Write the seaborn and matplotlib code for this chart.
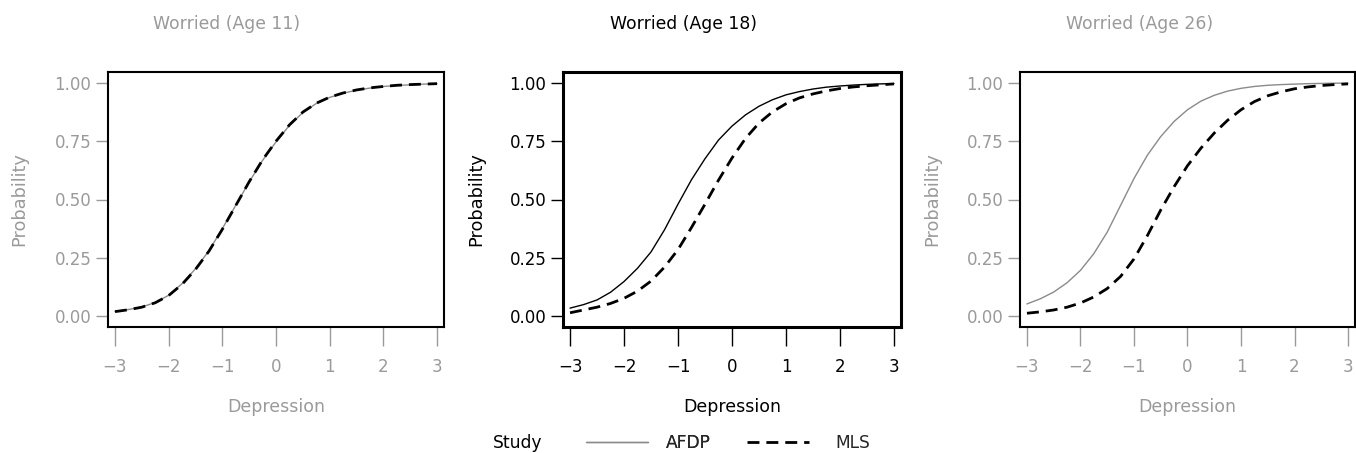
import numpy as np
import pandas as pd
import matplotlib
matplotlib.use("Agg")
import matplotlib.pyplot as plt
import seaborn as sns
from matplotlib.lines import Line2D

# ---------------- data ----------------
depression = [-3.0, -2.75, -2.5, -2.25, -2.0, -1.75, -1.5, -1.25, -1.0, -0.75,
              -0.5, -0.25, 0.0, 0.25, 0.5, 0.75, 1.0, 1.25, 1.5, 1.75,
              2.0, 2.25, 2.5, 2.75, 3.0]

titles = ["Worried (Age 11)", "Worried (Age 18)", "Worried (Age 26)"]
studies = ["AFDP", "MLS"]

afdp_age11 = [0.020, 0.028, 0.039, 0.058, 0.089, 0.139, 0.203, 0.280, 0.375, 0.475,
              0.575, 0.668, 0.747, 0.818, 0.873, 0.912, 0.938, 0.956, 0.969, 0.978,
              0.985, 0.989, 0.992, 0.995, 0.997]
mls_age11 = [0.019, 0.027, 0.038, 0.057, 0.088, 0.136, 0.200, 0.278, 0.372, 0.474,
             0.576, 0.670, 0.750, 0.820, 0.875, 0.913, 0.939, 0.957, 0.970, 0.979,
             0.985, 0.990, 0.993, 0.995, 0.997]

afdp_age18 = [0.034, 0.049, 0.069, 0.102, 0.148, 0.205, 0.275, 0.370, 0.480, 0.585,
              0.675, 0.755, 0.815, 0.863, 0.900, 0.928, 0.949, 0.963, 0.974, 0.982,
              0.987, 0.991, 0.994, 0.996, 0.997]
mls_age18 = [0.014, 0.026, 0.038, 0.054, 0.076, 0.107, 0.150, 0.210, 0.285, 0.380,
             0.480, 0.583, 0.678, 0.762, 0.828, 0.876, 0.911, 0.936, 0.953, 0.966,
             0.976, 0.983, 0.988, 0.992, 0.996]

afdp_age26 = [0.052, 0.074, 0.103, 0.143, 0.196, 0.268, 0.360, 0.475, 0.590, 0.690,
              0.770, 0.835, 0.885, 0.922, 0.947, 0.965, 0.977, 0.985, 0.990, 0.993,
              0.995, 0.997, 0.998, 0.999, 0.999]
mls_age26 = [0.012, 0.018, 0.026, 0.038, 0.056, 0.082, 0.118, 0.170, 0.245, 0.345,
             0.455, 0.555, 0.645, 0.720, 0.785, 0.840, 0.885, 0.920, 0.945, 0.962,
             0.975, 0.983, 0.989, 0.993, 0.996]

afdp_series = [afdp_age11, afdp_age18, afdp_age26]
mls_series = [mls_age11, mls_age18, mls_age26]

x_ticks = [-3, -2, -1, 0, 1, 2, 3]
y_ticks = [0.0, 0.25, 0.50, 0.75, 1.00]
y_tick_labels = ["0.00", "0.25", "0.50", "0.75", "1.00"]

# ---------------- style ----------------
sns.set_style("white")
plt.rcParams["font.family"] = ["DejaVu Sans"]

GRAY = "#9a9a9a"
LINE_GRAY = "#8a8a8a"
W, H = 1356, 453
DASH = (4.3, 2.5)

fig = plt.figure(figsize=(W / 100, H / 100), dpi=100)

panel_left_px = [108, 563, 1020]
panel_right_px = [444, 901, 1355]
ylabel_right_px = [28.5, 485.5, 941.5]
title_x_px = [227, 683, 1140]
text_colors = [GRAY, "black", GRAY]
afdp_colors = [LINE_GRAY, "black", LINE_GRAY]
frame_lw = [1.5, 2.2, 1.5]

top_px, bottom_px = 72, 327

for i in range(3):
    left = panel_left_px[i] / W
    wpx = panel_right_px[i] - panel_left_px[i]
    width = wpx / W
    bottom = 1 - bottom_px / H
    height = (bottom_px - top_px) / H
    ax = fig.add_axes([left, bottom, width, height])

    df = pd.DataFrame({
        "Depression": depression * 2,
        "Probability": afdp_series[i] + mls_series[i],
        "Study": [studies[0]] * len(depression) + [studies[1]] * len(depression),
    })
    sns.lineplot(
        data=df, x="Depression", y="Probability",
        hue="Study", style="Study", size="Study",
        palette={"AFDP": afdp_colors[i], "MLS": "black"},
        dashes={"AFDP": "", "MLS": DASH},
        sizes={"AFDP": 1.0, "MLS": 2.0},
        ax=ax, legend=False,
    )
    for ln in ax.lines:
        ln.set_solid_joinstyle("round")
        ln.set_dash_joinstyle("round")

    c = text_colors[i]
    ax.set_xlim(-3.13, 3.13)
    ax.set_ylim(-0.047, 1.047)
    ax.set_xticks(x_ticks)
    ax.set_yticks(y_ticks)
    ax.set_yticklabels(y_tick_labels)
    for sp in ax.spines.values():
        sp.set_visible(True)
        sp.set_color("black")
        sp.set_linewidth(frame_lw[i])
    ax.tick_params(axis="x", direction="out", length=13.5, width=1.0, color=c,
                   labelcolor=c, pad=9, labelsize=12, bottom=True)
    ax.tick_params(axis="y", direction="out", length=8.5, width=1.0, color=c,
                   labelcolor=c, pad=3.5, labelsize=12, left=True)

    ax.set_xlabel("Depression", color=c, fontsize=12.5)
    ax.set_ylabel("Probability", color=c, fontsize=12.8)
    ax.xaxis.set_label_coords(0.5, -0.28)
    ax.yaxis.set_label_coords((ylabel_right_px[i] - panel_left_px[i]) / wpx, 0.5)

    fig.text(title_x_px[i] / W, 1 - 24 / H, titles[i], ha="center", va="center",
             color=c, fontsize=12.4)

# ---------------- legend ----------------
fig.text(518 / W, 1 - 443 / H, "Study", ha="center", va="center",
         color="black", fontsize=12.3)
leg1 = fig.legend(handles=[Line2D([], [], color=LINE_GRAY, lw=1.0)],
                  labels=[studies[0]], loc="center left",
                  bbox_to_anchor=(586 / W, 1 - 443 / H), frameon=False,
                  fontsize=12.3, handlelength=3.6, handletextpad=1.05,
                  borderaxespad=0, borderpad=0)
fig.add_artist(leg1)
fig.legend(handles=[Line2D([], [], color="black", lw=2.0, dashes=DASH)],
           labels=[studies[1]], loc="center left",
           bbox_to_anchor=(747 / W, 1 - 443 / H), frameon=False,
           fontsize=12.3, handlelength=3.6, handletextpad=1.55,
           borderaxespad=0, borderpad=0)

fig.savefig("out.png", dpi=100)
